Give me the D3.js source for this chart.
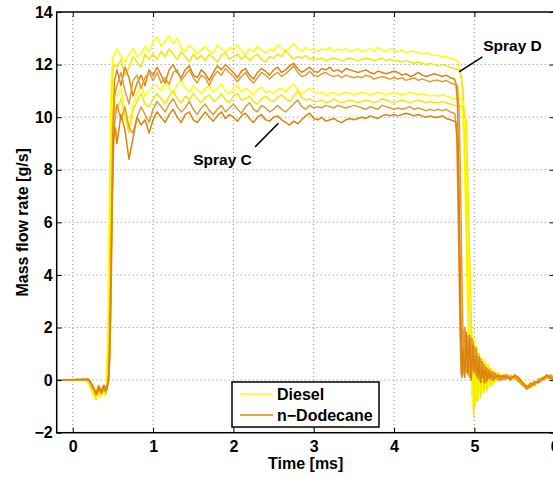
<!DOCTYPE html>
<html>
<head>
<meta charset="utf-8">
<script src="https://cdn.jsdelivr.net/npm/d3@7"></script>
<style>
  body { margin: 0; background: #fff; }
  svg text { font-family: "Liberation Sans", Arial, Helvetica, sans-serif; font-weight: bold; fill: #000; }
</style>
</head>
<body>
<svg id="chart" width="553" height="477"></svg>
<script>
/********************************************************
 ********************* Data *****************************
 ********************************************************/
var xTicks = [0, 1, 2, 3, 4, 5, 6];
var yTicks = [-2, 0, 2, 4, 6, 8, 10, 12, 14];

// plateau samples start at 0.55 ms, one every 0.05 ms up to 4.75 ms
var platStart = 0.55, platStep = 0.05;
// ringing samples after the needle closes, one every 0.02 ms
var ringStep = 0.02;
var tailTimes = [5.4, 5.45, 5.5, 5.55, 5.6, 5.65, 5.7, 5.75, 5.8, 5.85, 5.9, 5.95, 6.0];

// ---- Diesel, spray D (upper two yellow lines)
var onsetD1 = [[-0.2,0],[0.17,0],[0.2,-0.15],[0.24,-0.45],[0.28,-0.7],[0.31,-0.35],[0.34,-0.65],[0.37,-0.4],[0.4,-0.6],[0.42,-0.3],[0.44,2.5],[0.46,8],[0.48,11.5],[0.5,12.3]];
var plateauD1 = [12.6,12.3,12.1,12.4,12.6,12.3,12.4,12.7,12.5,12.9,
  13.05,12.7,12.9,13.1,12.8,13.0,12.6,12.5,12.75,12.6,
  12.4,12.55,12.7,12.5,12.45,12.75,12.6,12.5,12.65,12.55,
  12.75,12.5,12.4,12.6,12.5,12.7,12.55,12.45,12.6,12.5,
  12.75,12.6,12.5,12.65,12.8,12.6,12.5,12.65,12.55,12.6,
  12.5,12.6,12.55,12.65,12.5,12.6,12.55,12.6,12.5,12.55,
  12.6,12.5,12.55,12.6,12.5,12.65,12.55,12.5,12.6,12.55,
  12.5,12.55,12.45,12.5,12.5,12.45,12.4,12.45,12.4,12.35,
  12.35,12.3,12.3,12.25,12.2];
var fallD1 = [[4.8,12.1],[4.84,11.5],[4.87,9],[4.9,5],[4.92,2],[4.935,0.2]];
var ringD1 = [1.5,-0.6,1.3,-0.9,1.0,-0.5,0.9,-0.4,0.7,-0.3,0.6,-0.2,0.45,-0.15,0.35,-0.1,0.3,0.0,0.25,0.05,0.2];
var tailD1 = [0.15,0.1,0.2,0.05,-0.15,-0.3,-0.15,-0.2,-0.05,0.05,0.1,0.15,0.05];

var onsetD2 = [[-0.2,0],[0.18,0],[0.21,-0.2],[0.25,-0.5],[0.29,-0.75],[0.32,-0.4],[0.35,-0.6],[0.38,-0.35],[0.41,-0.55],[0.43,-0.2],[0.45,3],[0.47,8.5],[0.49,11.2],[0.51,12.0]];
var plateauD2 = [11.9,12.2,11.6,11.9,12.3,12.1,11.9,12.4,12.2,12.4,
  12.2,12.5,12.3,12.6,12.4,12.2,12.5,12.3,12.1,12.4,
  12.2,12.35,12.15,12.4,12.25,12.1,12.35,12.45,12.2,12.3,
  12.4,12.2,12.35,12.15,12.3,12.4,12.2,12.1,12.3,12.25,
  12.4,12.3,12.55,12.35,12.2,12.3,12.25,12.35,12.2,12.25,
  12.2,12.25,12.15,12.2,12.25,12.2,12.15,12.2,12.25,12.2,
  12.15,12.2,12.25,12.2,12.15,12.2,12.25,12.15,12.2,12.15,
  12.15,12.1,12.15,12.1,12.05,12.1,12.05,12.0,12.05,12.0,
  11.95,12.0,11.95,11.9,11.85];
var fallD2 = [[4.82,11.8],[4.86,11.0],[4.89,8],[4.92,4],[4.95,0.5]];
var ringD2 = [0.6,-1.4,1.2,-0.8,1.0,-0.7,0.8,-0.5,0.7,-0.4,0.6,-0.3,0.45,-0.2,0.35,-0.05,0.3,0.0,0.2,0.1];
var tailD2 = [0.1,0.15,0.1,0.0,-0.1,-0.25,-0.2,-0.1,-0.1,0.0,0.15,0.1,0.0];

// ---- Diesel, spray C (lower two yellow lines)
var onsetD3 = [[-0.2,0],[0.17,0],[0.2,-0.1],[0.24,-0.4],[0.27,-0.65],[0.3,-0.3],[0.33,-0.6],[0.36,-0.45],[0.39,-0.5],[0.42,-0.25],[0.44,1.5],[0.46,6],[0.48,9.8],[0.5,10.9]];
var plateauD3 = [10.8,11.1,10.2,9.6,10.5,10.9,11.2,10.8,11.0,11.2,
  11.2,11.0,11.35,11.1,10.9,11.25,11.4,11.1,10.95,11.2,
  11.05,10.9,11.1,11.2,10.95,11.1,11.25,11.0,10.9,11.1,
  11.2,10.95,11.1,11.0,10.85,11.05,11.15,10.95,11.0,10.9,
  11.05,11.1,10.95,11.15,11.25,11.05,10.9,11.0,11.1,10.95,
  10.9,10.95,10.85,10.9,10.95,10.85,10.9,10.95,10.9,10.85,
  10.9,10.95,10.9,10.85,10.9,10.95,10.9,10.85,10.9,10.95,
  10.9,10.85,10.9,10.95,10.9,10.85,10.9,10.85,10.8,10.85,
  10.8,10.85,10.8,10.75,10.7];
var fallD3 = [[4.84,10.7],[4.88,10.2],[4.91,7],[4.94,3],[4.96,0.6]];
var ringD3 = [-0.9,1.6,-0.6,1.2,-0.7,0.9,-0.4,0.8,-0.3,0.5,-0.2,0.4,-0.1,0.3,0.0,0.2,0.05,0.15];
var tailD3 = [0.2,0.05,0.15,0.1,-0.05,-0.2,-0.3,-0.15,0.0,0.1,0.05,0.2,0.1];

var onsetD4 = [[-0.2,0],[0.18,0],[0.21,-0.15],[0.25,-0.45],[0.29,-0.6],[0.32,-0.3],[0.35,-0.55],[0.38,-0.3],[0.41,-0.5],[0.43,-0.2],[0.45,2],[0.47,6.5],[0.49,9.5],[0.51,10.5]];
var plateauD4 = [10.2,10.7,10.0,9.4,10.3,10.6,10.9,10.5,10.4,10.7,
  10.9,10.7,10.5,10.8,11.0,10.7,10.55,10.8,10.65,10.9,
  10.7,10.55,10.75,10.85,10.6,10.7,10.9,10.65,10.55,10.8,
  10.9,10.65,10.7,10.8,10.6,10.5,10.7,10.8,10.65,10.6,
  10.75,10.85,10.7,10.6,10.8,11.0,10.75,10.65,10.7,10.6,
  10.6,10.65,10.55,10.6,10.7,10.6,10.55,10.6,10.65,10.6,
  10.55,10.6,10.65,10.6,10.55,10.6,10.7,10.65,10.6,10.55,
  10.6,10.65,10.6,10.55,10.6,10.65,10.6,10.55,10.6,10.55,
  10.55,10.6,10.55,10.5,10.45];
var fallD4 = [[4.86,10.4],[4.9,9.8],[4.93,6],[4.96,2.5],[4.98,0.2]];
var ringD4 = [-1.1,1.3,-0.8,1.0,-0.6,0.7,-0.4,0.6,-0.3,0.45,-0.15,0.35,0.0,0.25,0.05,0.2];
var tailD4 = [0.05,0.2,0.05,-0.05,-0.2,-0.3,-0.1,-0.15,-0.05,0.1,0.15,0.05,-0.05];

// ---- n-Dodecane, spray D (upper two orange lines)
var onsetN1 = [[-0.2,0],[0.19,0.02],[0.22,-0.1],[0.26,-0.35],[0.29,-0.55],[0.32,-0.25],[0.35,-0.5],[0.38,-0.3],[0.41,-0.45],[0.44,-0.15],[0.46,1],[0.48,5],[0.5,9.5],[0.52,11.4]];
var plateauN1 = [11.8,11.2,11.9,11.5,10.8,11.3,11.6,11.2,11.8,11.6,
  11.9,11.6,11.3,11.8,12.0,11.7,11.5,11.8,11.95,11.6,
  11.5,11.8,11.65,11.4,11.7,11.95,11.8,12.0,11.85,11.7,
  11.5,11.75,11.85,11.6,11.45,11.7,11.85,11.75,11.6,11.8,
  11.9,11.7,11.8,11.95,12.05,11.85,11.7,11.8,11.9,11.75,
  11.7,11.85,11.8,11.9,11.75,11.8,11.7,11.85,11.8,11.75,
  11.7,11.75,11.8,11.7,11.65,11.75,11.7,11.65,11.7,11.75,
  11.7,11.6,11.65,11.55,11.6,11.7,11.6,11.55,11.6,11.65,
  11.6,11.55,11.6,11.5,11.45];
var fallN1 = [[4.77,11.3],[4.79,10.5],[4.81,7],[4.83,3],[4.845,0.3]];
var ringN1 = [1.9,0.4,1.8,0.2,1.7,0.5,1.5,0.3,1.2,0.1,0.9,0.2,0.7,-0.1,0.5,0.0,0.4,0.05,0.3,0.0,0.25,0.05,0.2,0.0,0.15,0.05];
var tailN1 = [0.1,0.05,0.15,0.0,-0.1,-0.25,-0.2,-0.15,0.0,0.05,0.15,0.1,0.0];

var onsetN2 = [[-0.2,0],[0.19,0.03],[0.22,-0.1],[0.26,-0.3],[0.29,-0.5],[0.32,-0.2],[0.35,-0.45],[0.38,-0.2],[0.41,-0.4],[0.44,-0.1],[0.46,0.8],[0.48,4],[0.5,8.5],[0.52,10.8]];
var plateauN2 = [11.2,11.7,11.0,10.5,11.4,11.6,11.1,11.5,11.7,11.4,
  11.7,11.3,11.5,11.25,11.7,11.8,11.4,11.6,11.8,11.5,
  11.3,11.6,11.5,11.2,11.55,11.75,11.6,11.85,11.7,11.55,
  11.35,11.55,11.7,11.45,11.3,11.5,11.7,11.6,11.45,11.6,
  11.7,11.55,11.65,11.8,11.95,11.7,11.55,11.6,11.75,11.6,
  11.55,11.65,11.7,11.6,11.55,11.6,11.5,11.6,11.55,11.5,
  11.55,11.5,11.6,11.55,11.45,11.5,11.55,11.5,11.45,11.5,
  11.45,11.5,11.4,11.45,11.5,11.4,11.45,11.4,11.35,11.4,
  11.4,11.35,11.4,11.3,11.25];
var fallN2 = [[4.79,11.2],[4.81,10.3],[4.83,7],[4.85,3],[4.865,0.5]];
var ringN2 = [2.0,0.3,1.7,0.1,1.6,0.4,1.3,0.2,1.0,0.0,0.8,0.1,0.6,-0.1,0.45,0.05,0.35,0.0,0.3,0.1,0.2,0.0,0.15];
var tailN2 = [0.2,0.1,0.1,0.05,-0.15,-0.35,-0.2,-0.1,-0.05,0.1,0.1,0.05,0.0];

// ---- n-Dodecane, spray C (lower two orange lines)
var onsetN3 = [[-0.2,0],[0.2,0.02],[0.23,-0.15],[0.27,-0.4],[0.3,-0.55],[0.33,-0.3],[0.36,-0.5],[0.39,-0.25],[0.42,-0.4],[0.45,0],[0.47,2],[0.49,6.5],[0.51,9.3],[0.53,10.0]];
var plateauN3 = [10.5,9.9,10.4,9.6,9.4,10.0,10.4,10.1,9.8,10.3,
  10.6,10.4,10.2,10.5,10.7,10.4,10.2,10.35,10.6,10.3,
  10.1,10.35,10.5,10.25,10.1,10.3,10.45,10.2,10.35,10.5,
  10.3,10.15,10.4,10.55,10.3,10.2,10.45,10.35,10.2,10.3,
  10.45,10.3,10.2,10.35,10.5,10.65,10.4,10.3,10.45,10.35,
  10.4,10.35,10.45,10.4,10.35,10.45,10.4,10.35,10.4,10.45,
  10.4,10.35,10.3,10.4,10.35,10.3,10.45,10.4,10.35,10.3,
  10.35,10.3,10.35,10.4,10.3,10.35,10.3,10.25,10.3,10.25,
  10.3,10.25,10.3,10.2,10.15];
var fallN3 = [[4.76,10.1],[4.78,9.3],[4.8,6],[4.82,2],[4.835,0.2]];
var ringN3 = [1.6,0.2,1.9,0.5,1.4,0.1,1.6,0.3,1.1,0.2,0.8,0.0,0.6,0.1,0.5,-0.05,0.35,0.05,0.3,0.0,0.2,0.05,0.15,0.0];
var tailN3 = [0.05,0.15,0.1,-0.05,-0.2,-0.25,-0.1,-0.2,0.05,0.0,0.1,0.2,0.05];

var onsetN4 = [[-0.2,0],[0.2,0.03],[0.23,-0.1],[0.27,-0.35],[0.3,-0.5],[0.33,-0.25],[0.36,-0.45],[0.39,-0.2],[0.42,-0.35],[0.45,0.2],[0.47,3],[0.49,7],[0.51,9.2],[0.53,9.6]];
var plateauN4 = [9.0,10.1,9.5,8.4,9.2,10.0,9.7,9.9,9.4,9.9,
  10.2,10.0,9.8,10.1,10.3,10.0,9.8,10.1,10.2,9.9,
  9.8,10.0,10.2,10.0,9.85,10.05,10.2,9.95,10.1,10.0,
  9.85,10.05,10.15,9.95,9.8,10.0,10.1,9.9,9.85,10.0,
  10.05,9.9,9.8,9.7,9.85,9.75,9.9,10.05,10.15,9.95,
  9.9,10.0,9.85,9.9,9.95,9.85,9.8,9.9,9.95,9.9,
  9.95,10.0,9.95,10.05,10.0,9.95,10.05,10.1,10.05,10.1,
  10.05,10.1,10.15,10.1,10.05,10.1,10.05,10.0,10.05,10.0,
  10.0,10.05,9.95,9.9,9.85];
var fallN4 = [[4.77,9.8],[4.79,9.0],[4.81,5.5],[4.83,1.5],[4.845,0.1]];
var ringN4 = [1.2,0.1,1.8,0.3,1.5,0.0,1.3,0.4,0.9,0.1,0.7,-0.1,0.5,0.1,0.4,0.0,0.3,0.1,0.2,0.0,0.15];
var tailN4 = [0.15,0.0,0.2,0.1,-0.1,-0.3,-0.25,-0.05,-0.1,0.05,0.2,0.1,0.05];

var legendLabels = ["Diesel", "n\u2212Dodecane"];

/********************************************************
 ********************* Layout ***************************
 ********************************************************/
var svg = d3.select("#chart");
var plotLeft = 56.7, plotRight = 554.7, plotTop = 12, plotBottom = 432.7;

var xScale = d3.scaleLinear().domain([-0.2, 6]).range([plotLeft, plotRight]);
var yScale = d3.scaleLinear().domain([-2, 14]).range([plotBottom, plotTop]);

function buildCurve(onset, plateau, fall, ringT0, ring, tail) {
  var pts = onset.slice();
  plateau.forEach(function(v, i) { pts.push([platStart + i * platStep, v]); });
  fall.forEach(function(p) { pts.push(p); });
  ring.forEach(function(v, i) { pts.push([ringT0 + i * ringStep, v]); });
  tail.forEach(function(v, i) { pts.push([tailTimes[i], v]); });
  return pts;
}

var curves = [
  { fuel: 0, color: "#ffff00", pts: buildCurve(onsetD1, plateauD1, fallD1, 4.95, ringD1, tailD1) },
  { fuel: 0, color: "#f5e800", pts: buildCurve(onsetD2, plateauD2, fallD2, 4.97, ringD2, tailD2) },
  { fuel: 0, color: "#ffff00", pts: buildCurve(onsetD3, plateauD3, fallD3, 4.98, ringD3, tailD3) },
  { fuel: 0, color: "#f5e800", pts: buildCurve(onsetD4, plateauD4, fallD4, 5.0, ringD4, tailD4) },
  { fuel: 1, color: "#dc8408", pts: buildCurve(onsetN1, plateauN1, fallN1, 4.86, ringN1, tailN1) },
  { fuel: 1, color: "#e59a3a", pts: buildCurve(onsetN2, plateauN2, fallN2, 4.88, ringN2, tailN2) },
  { fuel: 1, color: "#e59a3a", pts: buildCurve(onsetN3, plateauN3, fallN3, 4.85, ringN3, tailN3) },
  { fuel: 1, color: "#dc8408", pts: buildCurve(onsetN4, plateauN4, fallN4, 4.86, ringN4, tailN4) }
];

/********************************************************
 ********************* Grid *****************************
 ********************************************************/
var grid = svg.append("g");
grid.selectAll(".vgrid")
  .data(xTicks.filter(function(d) { return d < 6; }))
  .enter().append("line")
  .attr("x1", function(d) { return xScale(d); })
  .attr("x2", function(d) { return xScale(d); })
  .attr("y1", plotTop).attr("y2", plotBottom)
  .attr("stroke", "#8a8a8a").attr("stroke-width", 1).attr("stroke-dasharray", "1,3");
grid.selectAll(".hgrid")
  .data(yTicks.filter(function(d) { return d > -2 && d < 14; }))
  .enter().append("line")
  .attr("y1", function(d) { return yScale(d); })
  .attr("y2", function(d) { return yScale(d); })
  .attr("x1", plotLeft).attr("x2", plotRight)
  .attr("stroke", "#8a8a8a").attr("stroke-width", 1).attr("stroke-dasharray", "1,3");

/********************************************************
 ********************* Lines ****************************
 ********************************************************/
var line = d3.line()
  .x(function(d) { return xScale(d[0]); })
  .y(function(d) { return yScale(d[1]); });

svg.append("g").selectAll("path")
  .data(curves)
  .enter().append("path")
  .attr("d", function(d) { return line(d.pts); })
  .attr("fill", "none")
  .attr("stroke", function(d) { return d.color; })
  .attr("stroke-width", 1.5)
  .attr("stroke-linejoin", "round");

/********************************************************
 ********************* Axes *****************************
 ********************************************************/
svg.append("g")
  .attr("transform", "translate(0," + plotBottom + ")")
  .call(d3.axisBottom(xScale).tickValues(xTicks).tickFormat(d3.format("d"))
    .tickSizeInner(-5).tickSizeOuter(0).tickPadding(8));
svg.append("g")
  .attr("transform", "translate(" + plotLeft + ",0)")
  .call(d3.axisLeft(yScale).tickValues(yTicks).tickFormat(d3.format("d"))
    .tickSizeInner(-5).tickSizeOuter(0).tickPadding(4));
// ticks on the top and right edges too
svg.append("g")
  .attr("transform", "translate(0," + plotTop + ")")
  .call(d3.axisTop(xScale).tickValues(xTicks).tickFormat("").tickSizeInner(-5).tickSizeOuter(0));
svg.append("g")
  .attr("transform", "translate(" + plotRight + ",0)")
  .call(d3.axisRight(yScale).tickValues(yTicks).tickFormat("").tickSizeInner(-5).tickSizeOuter(0));

svg.selectAll(".domain").remove();
svg.selectAll(".tick line").attr("stroke", "#000").attr("stroke-width", 1);
svg.selectAll(".tick text")
  .style("font-size", "16px").style("font-weight", "bold")
  .style("font-family", "'Liberation Sans', Arial, sans-serif").attr("fill", "#000");

svg.append("rect")
  .attr("x", plotLeft).attr("y", plotTop)
  .attr("width", plotRight - plotLeft).attr("height", plotBottom - plotTop)
  .attr("fill", "none").attr("stroke", "#000").attr("stroke-width", 1.5);

svg.append("text")
  .attr("x", (plotLeft + plotRight) / 2).attr("y", 469)
  .attr("text-anchor", "middle")
  .style("font-size", "16px")
  .text("Time [ms]");

svg.append("text")
  .attr("transform", "translate(28," + ((plotTop + plotBottom) / 2) + ") rotate(-90)")
  .attr("text-anchor", "middle")
  .style("font-size", "16px")
  .text("Mass flow rate [g/s]");

/********************************************************
 ********************* Annotations **********************
 ********************************************************/
svg.append("line")
  .attr("x1", xScale(2.27)).attr("y1", yScale(8.87))
  .attr("x2", xScale(2.56)).attr("y2", yScale(9.77))
  .attr("stroke", "#000").attr("stroke-width", 1.5);
svg.append("text")
  .attr("x", xScale(1.5)).attr("y", yScale(8.17))
  .style("font-size", "15.5px")
  .text("Spray C");

svg.append("line")
  .attr("x1", xScale(4.81)).attr("y1", yScale(11.72))
  .attr("x2", xScale(5.1)).attr("y2", yScale(12.29))
  .attr("stroke", "#000").attr("stroke-width", 1.5);
svg.append("text")
  .attr("x", xScale(5.11)).attr("y", yScale(12.5))
  .style("font-size", "15.5px")
  .text("Spray D");

/********************************************************
 ********************* Legend ***************************
 ********************************************************/
var legend = svg.append("g").attr("transform", "translate(232,382)");
legend.append("rect")
  .attr("width", 147).attr("height", 45)
  .attr("fill", "#fff").attr("stroke", "#000").attr("stroke-width", 1.5);
legendLabels.forEach(function(lab, i) {
  var ly = 12 + i * 21;
  legend.append("line")
    .attr("x1", 8).attr("x2", 41).attr("y1", ly).attr("y2", ly)
    .attr("stroke", i === 0 ? "#ffff00" : "#dc8408").attr("stroke-width", 1.5);
  legend.append("text")
    .attr("x", 45).attr("y", ly + 6)
    .style("font-size", "16px")
    .text(lab);
});
</script>
</body>
</html>
